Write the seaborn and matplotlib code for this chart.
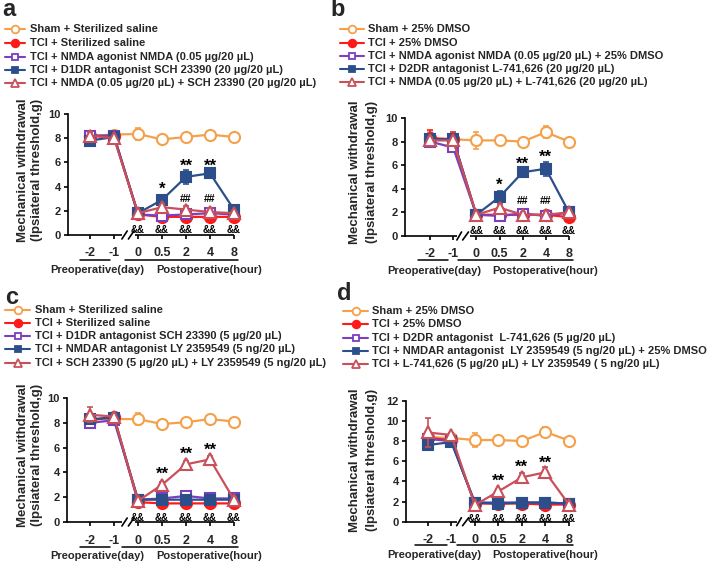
import numpy as np
import pandas as pd
import matplotlib
matplotlib.use("Agg")
import matplotlib.pyplot as plt
from matplotlib.lines import Line2D
import seaborn as sns

# ---------------- data ----------------
cats = ["-2", "-1", "0", "0.5", "2", "4", "8"]

# panel a
a_labels = ["Sham + Sterilized saline", "TCI + Sterilized saline",
            "TCI + NMDA agonist NMDA (0.05 \u00b5g/20 \u00b5L)",
            "TCI + D1DR antagonist SCH 23390 (20 \u00b5g/20 \u00b5L)",
            "TCI + NMDA (0.05 \u00b5g/20 \u00b5L) + SCH 23390 (20 \u00b5g/20 \u00b5L)"]
a_sham = [8.2, 8.3, 8.35, 7.9, 8.1, 8.3, 8.1]
a_tci = [8.2, 8.2, 1.7, 1.5, 1.5, 1.5, 1.5]
a_ago = [8.2, 8.2, 1.7, 1.6, 1.7, 1.8, 1.7]
a_ant = [7.8, 8.1, 1.8, 2.9, 4.8, 5.1, 2.1]
a_combo = [8.2, 8.0, 1.8, 2.3, 2.1, 1.9, 1.8]
a_sham_err = [0.3, 0.2, 0.5, 0.2, 0.2, 0.2, 0.2]
a_tci_err = [0.2, 0.2, 0.2, 0.2, 0.2, 0.2, 0.2]
a_ago_err = [0.2, 0.2, 0.2, 0.2, 0.2, 0.2, 0.2]
a_ant_err = [0.2, 0.2, 0.2, 0.2, 0.6, 0.2, 0.2]
a_combo_err = [0.3, 0.2, 0.2, 0.3, 0.3, 0.3, 0.2]

# panel b
b_labels = ["Sham + 25% DMSO", "TCI + 25% DMSO",
            "TCI + NMDA agonist NMDA (0.05 \u00b5g/20 \u00b5L) + 25% DMSO",
            "TCI + D2DR antagonist L-741,626 (20 \u00b5g/20 \u00b5L)",
            "TCI + NMDA (0.05 \u00b5g/20 \u00b5L) + L-741,626 (20 \u00b5g/20 \u00b5L)"]
b_sham = [8.2, 8.2, 8.1, 8.1, 8.0, 8.8, 8.0]
b_tci = [8.3, 8.2, 1.8, 1.8, 1.8, 1.8, 1.6]
b_ago = [8.0, 7.5, 1.8, 1.7, 1.9, 1.7, 2.0]
b_ant = [8.2, 8.2, 1.8, 3.3, 5.4, 5.7, 2.0]
b_combo = [8.1, 8.1, 1.8, 2.4, 1.8, 1.8, 2.0]
b_sham_err = [0.6, 0.3, 0.7, 0.2, 0.2, 0.5, 0.3]
b_tci_err = [0.7, 0.6, 0.2, 0.2, 0.2, 0.2, 0.2]
b_ago_err = [0.3, 0.3, 0.2, 0.2, 0.2, 0.2, 0.2]
b_ant_err = [0.3, 0.3, 0.2, 0.5, 0.2, 0.6, 0.2]
b_combo_err = [0.3, 0.2, 0.2, 0.3, 0.2, 0.2, 0.2]

# panel c
c_labels = ["Sham + Sterilized saline", "TCI + Sterilized saline",
            "TCI + D1DR antagonist SCH 23390 (5 \u00b5g/20 \u00b5L)",
            "TCI + NMDAR antagonist LY 2359549 (5 ng/20 \u00b5L)",
            "TCI + SCH 23390 (5 \u00b5g/20 \u00b5L) + LY 2359549 (5 ng/20 \u00b5L)"]
c_sham = [8.3, 8.3, 8.3, 7.9, 8.05, 8.3, 8.1]
c_tci = [8.2, 8.5, 1.6, 1.5, 1.5, 1.5, 1.5]
c_d1 = [8.0, 8.2, 1.8, 1.9, 2.1, 1.9, 1.9]
c_nmdar = [8.3, 8.4, 1.8, 1.8, 1.8, 1.8, 1.8]
c_combo = [8.65, 8.5, 1.7, 3.0, 4.65, 5.05, 1.8]
c_sham_err = [0.2, 0.2, 0.5, 0.2, 0.2, 0.2, 0.2]
c_tci_err = [0.2, 0.2, 0.2, 0.2, 0.2, 0.2, 0.2]
c_d1_err = [0.2, 0.2, 0.2, 0.2, 0.2, 0.2, 0.2]
c_nmdar_err = [0.2, 0.2, 0.2, 0.2, 0.2, 0.2, 0.2]
c_combo_err = [0.6, 0.2, 0.2, 0.2, 0.3, 0.3, 0.2]

# panel d
d_labels = ["Sham + 25% DMSO", "TCI + 25% DMSO",
            "TCI + D2DR antagonist  L-741,626 (5 \u00b5g/20 \u00b5L)",
            "TCI + NMDAR antagonist  LY 2359549 (5 ng/20 \u00b5L) + 25% DMSO",
            "TCI + L-741,626 (5 \u00b5g/20 \u00b5L) + LY 2359549 ( 5 ng/20 \u00b5L)"]
d_sham = [8.4, 8.3, 8.1, 8.1, 8.0, 8.9, 8.05]
d_tci = [8.3, 8.1, 1.8, 1.8, 1.8, 1.7, 1.7]
d_d2 = [8.2, 8.0, 1.9, 1.9, 1.9, 1.9, 1.8]
d_nmdar = [7.6, 7.9, 1.9, 1.8, 1.9, 1.9, 1.8]
d_combo = [8.85, 8.6, 1.65, 3.0, 4.4, 4.9, 1.7]
d_sham_err = [0.3, 0.2, 0.7, 0.2, 0.2, 0.5, 0.2]
d_tci_err = [0.2, 0.2, 0.2, 0.2, 0.2, 0.2, 0.2]
d_d2_err = [0.2, 0.2, 0.2, 0.2, 0.2, 0.2, 0.2]
d_nmdar_err = [0.5, 0.2, 0.2, 0.2, 0.2, 0.2, 0.2]
d_combo_err = [1.4, 0.2, 0.2, 0.2, 0.4, 0.5, 0.2]

# significance annotations: (category, text, y)
a_marks = [("0.5", "*", 4.1), ("2", "**", 6.0), ("4", "**", 6.0),
           ("2", "##", 3.0), ("4", "##", 3.0)]
b_marks = [("0.5", "*", 4.6), ("2", "**", 6.4), ("4", "**", 7.0),
           ("2", "##", 3.0), ("4", "##", 3.0)]
c_marks = [("0.5", "**", 4.2), ("2", "**", 5.8), ("4", "**", 6.1)]
d_marks = [("0.5", "**", 4.4), ("2", "**", 5.8), ("4", "**", 6.2)]
amp_cats = ["0", "0.5", "2", "4", "8"]
a_amp_y, b_amp_y, c_amp_y, d_amp_y = 0.65, 0.65, 0.55, 0.55

# ---------------- style ----------------
sns.set_theme(style="ticks")
plt.rcParams["font.family"] = ["Liberation Sans", "DejaVu Sans"]
plt.rcParams["font.weight"] = "bold"

W, H = 713, 565
fig = plt.figure(figsize=(W / 100, H / 100), dpi=100)

def fx(x):
    return x / W

def fy(y):
    return 1 - y / H

colors = ["#F5A04A", "#FF1A1A", "#7B3FBF", "#2C4F8C", "#C9505A"]
markers = ["o", "o", "s", "s", "^"]
filled = [False, True, False, True, False]
msizes = [8, 8, 7.5, 7.5, 9]
leg_msizes = [5.5, 5.5, 5, 5, 6]

panels = [
    dict(letter="a", letter_xy=(9, 10), labels=a_labels,
         series=[a_sham, a_tci, a_ago, a_ant, a_combo],
         errs=[a_sham_err, a_tci_err, a_ago_err, a_ant_err, a_combo_err],
         marks=a_marks, amp_y=a_amp_y,
         box=(68, 114, 234, 235), x0px=90, ymax=10,
         brk=(1.33, 1.55, 1.58, 1.83, 1.875),
         leg=(5, 25, 30, [29, 43, 57, 70, 83]),
         ylab=(23, 37, 170),
         under=(253, 260, 270, (80, 110), (125, 238), 97, 209)),
    dict(letter="b", letter_xy=(338, 10), labels=b_labels,
         series=[b_sham, b_tci, b_ago, b_ant, b_combo],
         errs=[b_sham_err, b_tci_err, b_ago_err, b_ant_err, b_combo_err],
         marks=b_marks, amp_y=b_amp_y,
         box=(405, 118, 569, 236), x0px=430, ymax=10,
         brk=(1.16, 1.36, 1.42, 1.66, 1.72),
         leg=(340, 364, 368, [29, 43, 56, 69, 82]),
         ylab=(355, 372, 172),
         under=(253, 260, 271, (418, 448), (458, 573), 434, 545)),
    dict(letter="c", letter_xy=(12, 297), labels=c_labels,
         series=[c_sham, c_tci, c_d1, c_nmdar, c_combo],
         errs=[c_sham_err, c_tci_err, c_d1_err, c_nmdar_err, c_combo_err],
         marks=c_marks, amp_y=c_amp_y,
         box=(67, 398, 234, 522), x0px=90, ymax=10,
         brk=(1.33, 1.55, 1.58, 1.83, 1.875),
         leg=(5, 30, 35, [310, 323, 336, 349, 363]),
         ylab=(23, 37, 455),
         under=(539, 547, 556, (80, 110), (122, 238), 97, 209)),
    dict(letter="d", letter_xy=(344, 294), labels=d_labels,
         series=[d_sham, d_tci, d_d2, d_nmdar, d_combo],
         errs=[d_sham_err, d_tci_err, d_d2_err, d_nmdar_err, d_combo_err],
         marks=d_marks, amp_y=d_amp_y,
         box=(405.7, 400.7, 569, 521.7), x0px=427.7, ymax=12,
         brk=(1.23, 1.43, 1.48, 1.74, 1.79),
         leg=(343, 368, 372, [311, 324, 338, 351, 364]),
         ylab=(355, 372, 460),
         under=(539, 545, 555, (415, 447), (457, 573), 434, 545)),
]

xpos = np.arange(len(cats))
LW = 1.2

for p in panels:
    l, t, r, b = p["box"]
    ax = fig.add_axes([fx(l), fy(b), fx(r) - fx(l), (b - t) / H])
    pxu = (r - p["x0px"]) / 6.0
    xmin = -(p["x0px"] - l) / pxu
    ax.set_xlim(xmin, 6)
    ax.set_ylim(0, p["ymax"])
    ypx = (b - t) / p["ymax"]
    for i, (vals, err) in enumerate(zip(p["series"], p["errs"])):
        c = colors[i]
        df = pd.DataFrame({"x": xpos, "y": vals})
        ax.errorbar(xpos, vals, yerr=err, fmt="none", ecolor=c, elinewidth=1.2,
                    capsize=2.5, capthick=1.2, zorder=2 + i, clip_on=False)
        sns.lineplot(data=df, x="x", y="y", ax=ax, color=c, marker=markers[i],
                     markersize=msizes[i],
                     markerfacecolor=c if filled[i] else "white",
                     markeredgecolor=c, markeredgewidth=1.5, linewidth=1.6,
                     zorder=2.5 + i, clip_on=False, legend=False, errorbar=None)
    # annotations
    for cat, txt, yv in p["marks"]:
        xi = cats.index(cat)
        if "*" in txt:
            ax.text(xi, yv - 4.0 / ypx, txt, ha="center", va="center",
                    fontsize=12, color="black", zorder=10)
        else:
            ax.text(xi, yv, txt, ha="center", va="center", fontsize=7.5,
                    color="black", zorder=10)
    for cat in amp_cats:
        ax.text(cats.index(cat), p["amp_y"] - 2.5 / ypx, "&&", ha="center",
                va="center", fontsize=7, color="black", zorder=10)
    # axes styling
    sns.despine(ax=ax)
    ax.spines["bottom"].set_visible(False)
    ax.spines["left"].set_linewidth(LW)
    ax.spines["left"].set_color("black")
    ax.set_xticks(xpos, labels=cats)
    ax.set_yticks(np.arange(0, p["ymax"] + 1, 2))
    ax.tick_params(axis="x", length=3, width=LW, pad=6, labelsize=9,
                   color="black")
    ax.tick_params(axis="y", length=3, width=LW, pad=2, labelsize=8,
                   color="black")
    for lab in ax.get_xticklabels() + ax.get_yticklabels():
        lab.set_fontweight("bold")
    ax.set_xlabel("")
    ax.set_ylabel("")
    ax.grid(False)
    # broken x axis
    e1, s1a, s1b, s2b, st2 = p["brk"]
    dy = 4.0 / ypx
    ax.plot([xmin, e1], [0, 0], color="black", lw=LW, clip_on=False,
            solid_capstyle="butt")
    ax.plot([st2, 6], [0, 0], color="black", lw=LW, clip_on=False,
            solid_capstyle="butt")
    ax.plot([e1, s1a], [-dy, dy], color="black", lw=LW, clip_on=False)
    ax.plot([s1a + 0.05, s2b], [-dy, dy], color="black", lw=LW, clip_on=False)

    # panel letter
    fig.text(fx(p["letter_xy"][0]), fy(p["letter_xy"][1]), p["letter"],
             ha="center", va="center", fontsize=17, fontweight="bold")
    # legend
    x0, x1, xt, rows = p["leg"]
    for i, (lab, yy) in enumerate(zip(p["labels"], rows)):
        c = colors[i]
        fig.add_artist(Line2D([fx(x0), fx(x1)], [fy(yy), fy(yy)], color=c,
                              lw=1.5, transform=fig.transFigure))
        fig.add_artist(Line2D([fx((x0 + x1) / 2)], [fy(yy)], color=c,
                              marker=markers[i], markersize=leg_msizes[i],
                              markerfacecolor=c if filled[i] else "white",
                              markeredgecolor=c, markeredgewidth=1.3,
                              transform=fig.transFigure))
        fig.text(fx(xt), fy(yy), lab, ha="left", va="center", fontsize=8,
                 fontweight="bold")
    # y label (two lines)
    lx1, lx2, lyc = p["ylab"]
    fig.text(fx(lx1), fy(lyc), "Mechanical withdrawal", rotation=90,
             ha="center", va="center", fontsize=9.5, fontweight="bold")
    fig.text(fx(lx2), fy(lyc), "(Ipsiateral threshold,g)", rotation=90,
             ha="center", va="center", fontsize=9.5, fontweight="bold")
    # pre / post underline and labels
    ty, uy, ly, pre, post, prec, postc = p["under"]
    fig.add_artist(Line2D([fx(pre[0]), fx(pre[1])], [fy(uy), fy(uy)],
                          color="black", lw=1.1, transform=fig.transFigure))
    fig.add_artist(Line2D([fx(post[0]), fx(post[1])], [fy(uy), fy(uy)],
                          color="black", lw=1.1, transform=fig.transFigure))
    fig.text(fx(prec), fy(ly), "Preoperative(day)", ha="center", va="center",
             fontsize=8, fontweight="bold")
    fig.text(fx(postc), fy(ly), "Postoperative(hour)", ha="center",
             va="center", fontsize=8, fontweight="bold")

fig.savefig("out.png", dpi=100)
